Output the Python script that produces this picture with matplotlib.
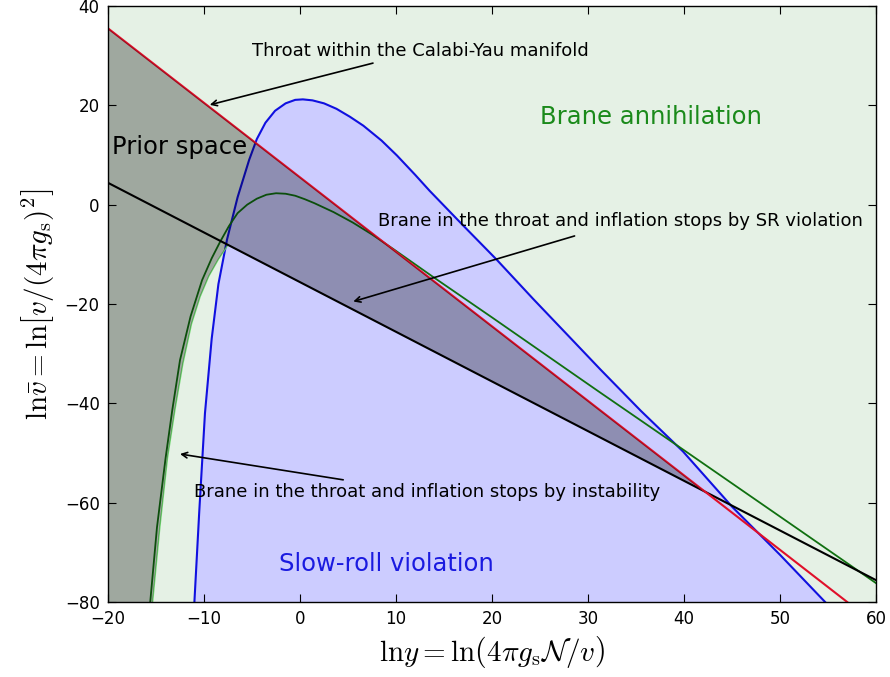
import numpy as np
import matplotlib
matplotlib.use("Agg")
import matplotlib.pyplot as plt

plt.rcParams["mathtext.fontset"] = "cm"

# Boundaries of the parameter space (ln y on x, ln v-bar on y)
throat_x = [-20.0, 57.0]          # throat fits inside the Calabi-Yau (red)
throat_y = [35.5, -80.0]
brane_x = [-20.0, 60.0]           # brane sits in the throat (black)
brane_y = [4.4, -75.6]

sr_x = [-11.0, -10.5, -9.9, -9.2, -8.5, -7.6, -6.5, -5.3, -4.5, -3.6, -2.6, -1.5,
        -0.5, 0.3, 1.3, 2.5, 3.8, 5.2, 6.6, 8.5, 10.1, 12.0, 13.5, 17.0, 20.5, 24.3,
        28.0, 31.3, 35.5, 39.9, 45.0, 50.0, 54.7]
sr_y = [-80.0, -62.0, -42.0, -27.0, -16.0, -7.0, 1.5, 9.0, 13.2, 16.5, 18.9, 20.4,
        21.1, 21.2, 21.0, 20.4, 19.3, 17.7, 15.9, 12.9, 9.9, 6.0, 2.8, -4.2, -11.1, -19.0,
        -26.5, -33.2, -41.5, -49.7, -60.8, -70.5, -80.0]

end_sr_x = [-15.6, -14.9, -14.0, -13.3, -12.5, -11.4, -10.2, -9.2, -8.3, -7.4, -6.5,
            -5.5, -4.5, -3.5, -2.5, -1.5, -0.5, 0.5, 1.5, 2.5, 3.5, 5.5, 7.5, 9.7,
            13.9, 20.0, 31.25, 39.9, 50.0, 60.0]
end_sr_y = [-80.0, -65.0, -51.0, -41.3, -31.3, -22.5, -15.2, -10.8, -7.4, -4.3, -1.7,
            0.0, 1.2, 2.0, 2.3, 2.2, 1.8, 1.1, 0.3, -0.6, -1.5, -3.6, -6.0, -8.9,
            -14.6, -22.7, -37.8, -49.3, -62.8, -76.2]

instab_x = [-15.35, -14.6, -13.8, -13.0, -12.2, -11.3, -10.4, -9.5, -8.5, -7.5]
instab_y = [-80.0, -65.0, -51.0, -41.0, -32.0, -24.0, -18.5, -14.4, -11.0, -8.1]

xticks = [-20, -10, 0, 10, 20, 30, 40, 50, 60]
yticks = [-80, -60, -40, -20, 0, 20, 40]

fig = plt.figure(figsize=(8.9, 6.77), dpi=100)
ax = fig.add_axes([108 / 890, 1 - 602 / 677, 768 / 890, 596 / 677])
ax.set_facecolor("#e5f1e5")

# slow-roll violation area
ax.fill(sr_x + [sr_x[-1], sr_x[0]], sr_y + [-80, -80], color="#ccccff", lw=0, zorder=1)

ax.plot(sr_x, sr_y, color="#1010e0", lw=1.5, zorder=2)
ax.plot(end_sr_x, end_sr_y, color="#107010", lw=1.3, zorder=2)
ax.plot(instab_x, instab_y, color="#70d870", lw=1.0, zorder=2)
ax.plot(brane_x, brane_y, color="k", lw=1.5, zorder=2)
ax.plot(throat_x, throat_y, color="#e0102a", lw=1.5, zorder=2)

# prior space: under the red line, above the black line / instability curve
sr_a = (throat_y[1] - throat_y[0]) / (throat_x[1] - throat_x[0])
br_a = (brane_y[1] - brane_y[0]) / (brane_x[1] - brane_x[0])
xi = (brane_y[0] - br_a * brane_x[0] - throat_y[0] + sr_a * throat_x[0]) / (sr_a - br_a)
yi = throat_y[0] + sr_a * (xi - throat_x[0])
px = [throat_x[0], xi] + instab_x[::-1] + [throat_x[0]]
py = [throat_y[0], yi] + instab_y[::-1] + [-80]
ax.fill(px, py, color="k", alpha=0.3, lw=0, zorder=3)

ax.text(-19.6, 11.6, "Prior space", fontsize=17.5, va="center", ha="left", zorder=5)
ax.text(36.6, 17.7, "Brane annihilation", fontsize=17.5, color="#1a8a1a", ha="center", va="center", zorder=5)
ax.text(9.0, -72.3, "Slow-roll violation", fontsize=17.5, color="#1a1ae0", ha="center", va="center", zorder=5)

arrow = dict(arrowstyle="->", color="k", lw=1.2, shrinkA=0, shrinkB=0)
ax.text(12.5, 30.9, "Throat within the Calabi-Yau manifold", fontsize=13, ha="center", va="center", zorder=5)
ax.annotate("", xy=(-9.4, 20.1), xytext=(7.6, 28.5), arrowprops=arrow, zorder=5)
ax.text(33.4, -3.3, "Brane in the throat and inflation stops by SR violation", fontsize=13,
        ha="center", va="center", zorder=5)
ax.annotate("", xy=(5.55, -19.5), xytext=(28.6, -6.3), arrowprops=arrow, zorder=5)
ax.text(13.2, -57.8, "Brane in the throat and inflation stops by instability", fontsize=13,
        ha="center", va="center", zorder=5)
ax.annotate("", xy=(-12.5, -50.2), xytext=(4.5, -55.4), arrowprops=arrow, zorder=5)

ax.set_xlim(-20, 60)
ax.set_ylim(-80, 40)
ax.set_xticks(xticks)
ax.set_yticks(yticks)
ax.tick_params(direction="in", top=True, right=True, length=6, labelsize=12, pad=6)
for s in ax.spines.values():
    s.set_linewidth(1.0)

ax.set_xlabel(r"$\mathrm{ln}y = \mathrm{ln}\left(4\pi g_{\rm s}\mathcal{N}/v\right)$", fontsize=21, labelpad=4)
ax.set_ylabel(r"$\mathrm{ln}\bar{v} = \mathrm{ln}\left[v/(4\pi g_{\rm s})^2\right]$", fontsize=21, labelpad=6)

fig.savefig("out.png", dpi=100)
